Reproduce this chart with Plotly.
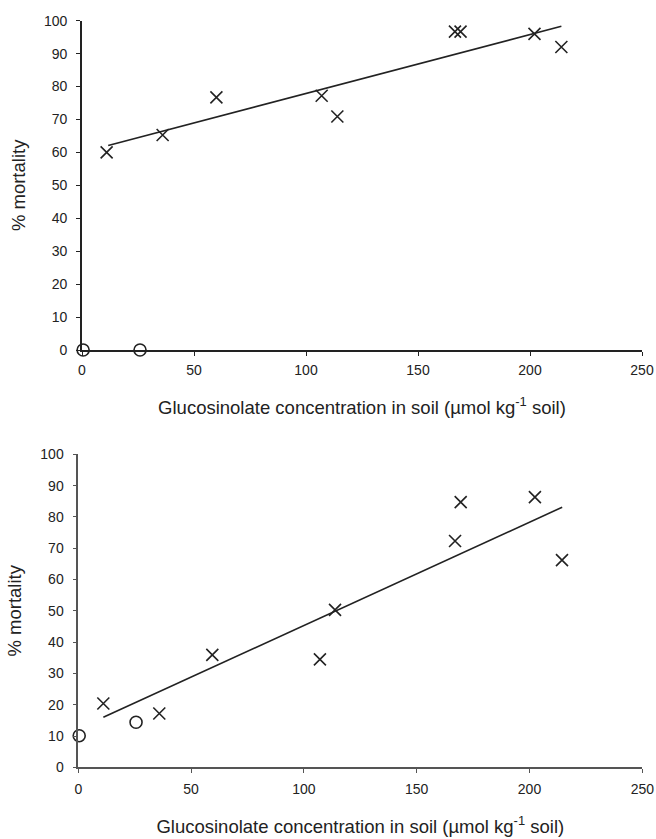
import plotly.graph_objects as go

# Top panel data
top_cross_x = [11, 36, 60, 107, 114, 166.5, 169, 202, 214]
top_cross_y = [60, 65.3, 76.7, 77.2, 70.9, 96.7, 96.7, 96.0, 92.0]
top_circle_x = [0.5, 25.9]
top_circle_y = [0, 0]
top_trend_x = [11.7, 214]
top_trend_y = [62.1, 98.3]

# Bottom panel data
bot_cross_x = [11.1, 35.9, 59.4, 107.1, 113.8, 167, 169.5, 202.4, 214.4]
bot_cross_y = [20.4, 17.2, 35.9, 34.5, 50.3, 72.3, 84.7, 86.3, 66.2]
bot_circle_x = [0.4, 25.6]
bot_circle_y = [10.1, 14.4]
bot_trend_x = [11.1, 214.5]
bot_trend_y = [16.0, 83.1]

x_ticks = [0, 50, 100, 150, 200, 250]
y_ticks = [0, 10, 20, 30, 40, 50, 60, 70, 80, 90, 100]

x_title = "Glucosinolate concentration in soil (µmol kg<sup>-1</sup> soil)"
y_title = "% mortality"

W, H = 656, 839
ink = "#222222"

fig = go.Figure()

def add_panel(xa, ya, cx, cy, ox, oy, tx, ty):
    fig.add_trace(go.Scatter(x=tx, y=ty, mode="lines", xaxis=xa, yaxis=ya,
                             line=dict(color=ink, width=1.6), showlegend=False,
                             cliponaxis=False))
    fig.add_trace(go.Scatter(x=cx, y=cy, mode="markers", xaxis=xa, yaxis=ya,
                             marker=dict(symbol="x-thin", size=12,
                                         line=dict(color=ink, width=1.6)),
                             showlegend=False, cliponaxis=False))
    fig.add_trace(go.Scatter(x=ox, y=oy, mode="markers", xaxis=xa, yaxis=ya,
                             marker=dict(symbol="circle-open", size=12, color=ink,
                                         line=dict(color=ink, width=1.6)),
                             showlegend=False, cliponaxis=False))

add_panel("x", "y", top_cross_x, top_cross_y, top_circle_x, top_circle_y, top_trend_x, top_trend_y)
add_panel("x2", "y2", bot_cross_x, bot_cross_y, bot_circle_x, bot_circle_y, bot_trend_x, bot_trend_y)

tickfont = dict(family="Arial, Liberation Sans, sans-serif", size=14, color=ink)
titlefont = dict(family="Arial, Liberation Sans, sans-serif", size=18.5, color=ink)

def xaxis(domain, anchor, color, standoff):
    return dict(domain=domain, anchor=anchor, range=[0, 250], tickvals=x_ticks,
                showgrid=False, zeroline=False, showline=True, linecolor=color,
                linewidth=1.6, ticks="outside", ticklen=4, tickcolor=color,
                tickwidth=1.2, tickfont=tickfont, ticklabelstandoff=standoff,
                automargin=False,
                title=dict(text=x_title, font=titlefont, standoff=24))

def yaxis(domain, anchor, color):
    return dict(domain=domain, anchor=anchor, range=[0, 100], tickvals=y_ticks,
                showgrid=False, zeroline=False, showline=True, linecolor=color,
                linewidth=1.6, ticks="outside", ticklen=4, tickcolor=color,
                tickwidth=1.2, tickfont=tickfont, ticklabelstandoff=6,
                automargin=False,
                title=dict(text=y_title, font=titlefont, standoff=14))

fig.update_layout(
    width=W, height=H,
    margin=dict(l=0, r=0, t=0, b=0),
    paper_bgcolor="white", plot_bgcolor="white",
    xaxis=xaxis([82 / W, 642 / W], "y", ink, 2),
    yaxis=yaxis([1 - 350 / H, 1 - 20.7 / H], "x", ink),
    xaxis2=xaxis([78.3 / W, 642.3 / W], "y2", "#555555", 4),
    yaxis2=yaxis([1 - 767.3 / H, 1 - 454.3 / H], "x2", "#555555"),
)

fig.write_html("out.html",
               config={"displayModeBar": False},
               post_script="document.body.style.margin='0';document.body.style.overflow='hidden';")
